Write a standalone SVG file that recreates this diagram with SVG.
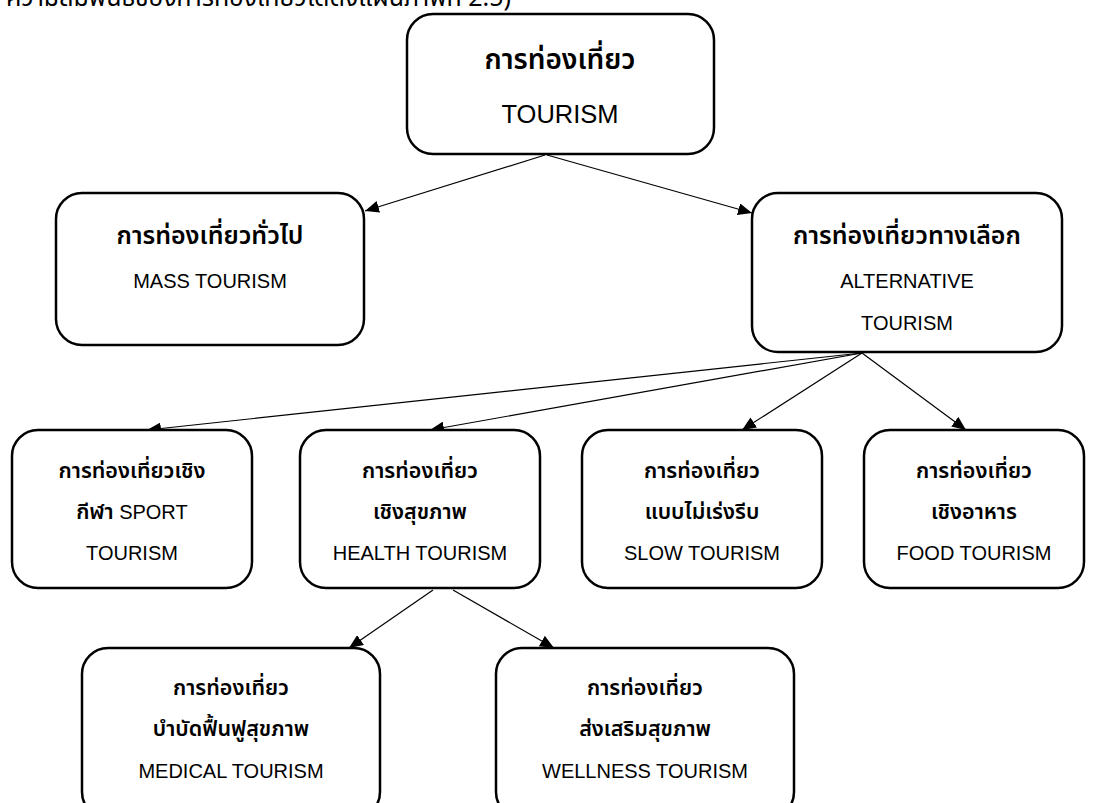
<svg xmlns="http://www.w3.org/2000/svg" width="1094" height="803" viewBox="0 0 1094 803">
<defs>
<style>
.box{fill:#fff;stroke:#000;stroke-width:2.5}
.th{font-family:"Noto Sans Thai","Noto Sans","Liberation Sans",sans-serif;font-weight:600;text-anchor:middle;fill:#000}
.en{font-family:"Liberation Sans","Noto Sans",sans-serif;text-anchor:middle;fill:#000}
.con{stroke:#000;stroke-width:1.2;fill:none;marker-end:url(#ah)}
</style>
<marker id="ah" viewBox="0 0 14 12" refX="14" refY="6" markerWidth="14" markerHeight="12" markerUnits="userSpaceOnUse" orient="auto">
<path d="M0,0 L14,6 L0,12 Z" fill="#000"/>
</marker>
</defs>
<rect width="1094" height="803" fill="#fff"/>
<text x="6" y="6" font-family="'Noto Sans Thai','Noto Sans',sans-serif" font-size="25" fill="#000">ความสัมพันธ์ของการท่องเที่ยวได้ดังแผนภาพที่ 2.5)</text>
<g id="connectors">
<line class="con" x1="545" y1="155" x2="365" y2="211"/>
<line class="con" x1="547" y1="155" x2="752" y2="213"/>
<line class="con" x1="862" y1="353" x2="147" y2="430"/>
<line class="con" x1="862" y1="353" x2="430" y2="430"/>
<line class="con" x1="862" y1="353" x2="742" y2="430"/>
<line class="con" x1="862" y1="353" x2="966" y2="430"/>
<line class="con" x1="433" y1="590" x2="349" y2="648"/>
<line class="con" x1="453" y1="590" x2="554" y2="648"/>
</g>
<g id="tourism">
<rect class="box" x="407" y="14" width="307" height="140" rx="26"/>
<text class="th" x="560" y="69" style="font-size:28px">การท่องเที่ยว</text>
<text class="en" x="560" y="123" style="font-size:25.5px">TOURISM</text>
</g>
<g id="mass">
<rect class="box" x="56" y="193" width="308" height="152" rx="26"/>
<text class="th" x="210" y="244" style="font-size:25px">การท่องเที่ยวทั่วไป</text>
<text class="en" x="210" y="288" style="font-size:20px">MASS TOURISM</text>
</g>
<g id="alternative">
<rect class="box" x="752" y="193" width="310" height="159" rx="26"/>
<text class="th" x="907" y="244" style="font-size:25px">การท่องเที่ยวทางเลือก</text>
<text class="en" x="907" y="288" style="font-size:20px">ALTERNATIVE</text>
<text class="en" x="907" y="330" style="font-size:20px">TOURISM</text>
</g>
<g id="sport">
<rect class="box" x="12" y="430" width="240" height="158" rx="26"/>
<text class="th" x="132" y="478" style="font-size:21.5px">การท่องเที่ยวเชิง</text>
<text class="th" x="132" y="519" style="font-size:21.5px">กีฬา<tspan font-family="Liberation Sans" style="font-size:20px;font-weight:normal"> SPORT</tspan></text>
<text class="en" x="132" y="560" style="font-size:20px">TOURISM</text>
</g>
<g id="health">
<rect class="box" x="300" y="430" width="240" height="158" rx="26"/>
<text class="th" x="420" y="478" style="font-size:21.5px">การท่องเที่ยว</text>
<text class="th" x="420" y="519" style="font-size:21.5px">เชิงสุขภาพ</text>
<text class="en" x="420" y="560" style="font-size:20px">HEALTH TOURISM</text>
</g>
<g id="slow">
<rect class="box" x="582" y="430" width="240" height="158" rx="26"/>
<text class="th" x="702" y="478" style="font-size:21.5px">การท่องเที่ยว</text>
<text class="th" x="702" y="519" style="font-size:21.5px">แบบไม่เร่งรีบ</text>
<text class="en" x="702" y="560" style="font-size:20px">SLOW TOURISM</text>
</g>
<g id="food">
<rect class="box" x="864" y="430" width="220" height="158" rx="26"/>
<text class="th" x="974" y="478" style="font-size:21.5px">การท่องเที่ยว</text>
<text class="th" x="974" y="519" style="font-size:21.5px">เชิงอาหาร</text>
<text class="en" x="974" y="560" style="font-size:20px">FOOD TOURISM</text>
</g>
<g id="medical">
<rect class="box" x="82" y="648" width="298" height="170" rx="26"/>
<text class="th" x="231" y="695" style="font-size:21.5px">การท่องเที่ยว</text>
<text class="th" x="231" y="736" style="font-size:21.5px">บำบัดฟื้นฟูสุขภาพ</text>
<text class="en" x="231" y="778" style="font-size:20px">MEDICAL TOURISM</text>
</g>
<g id="wellness">
<rect class="box" x="496" y="648" width="298" height="170" rx="26"/>
<text class="th" x="645" y="695" style="font-size:21.5px">การท่องเที่ยว</text>
<text class="th" x="645" y="736" style="font-size:21.5px">ส่งเสริมสุขภาพ</text>
<text class="en" x="645" y="778" style="font-size:20px">WELLNESS TOURISM</text>
</g>
</svg>
